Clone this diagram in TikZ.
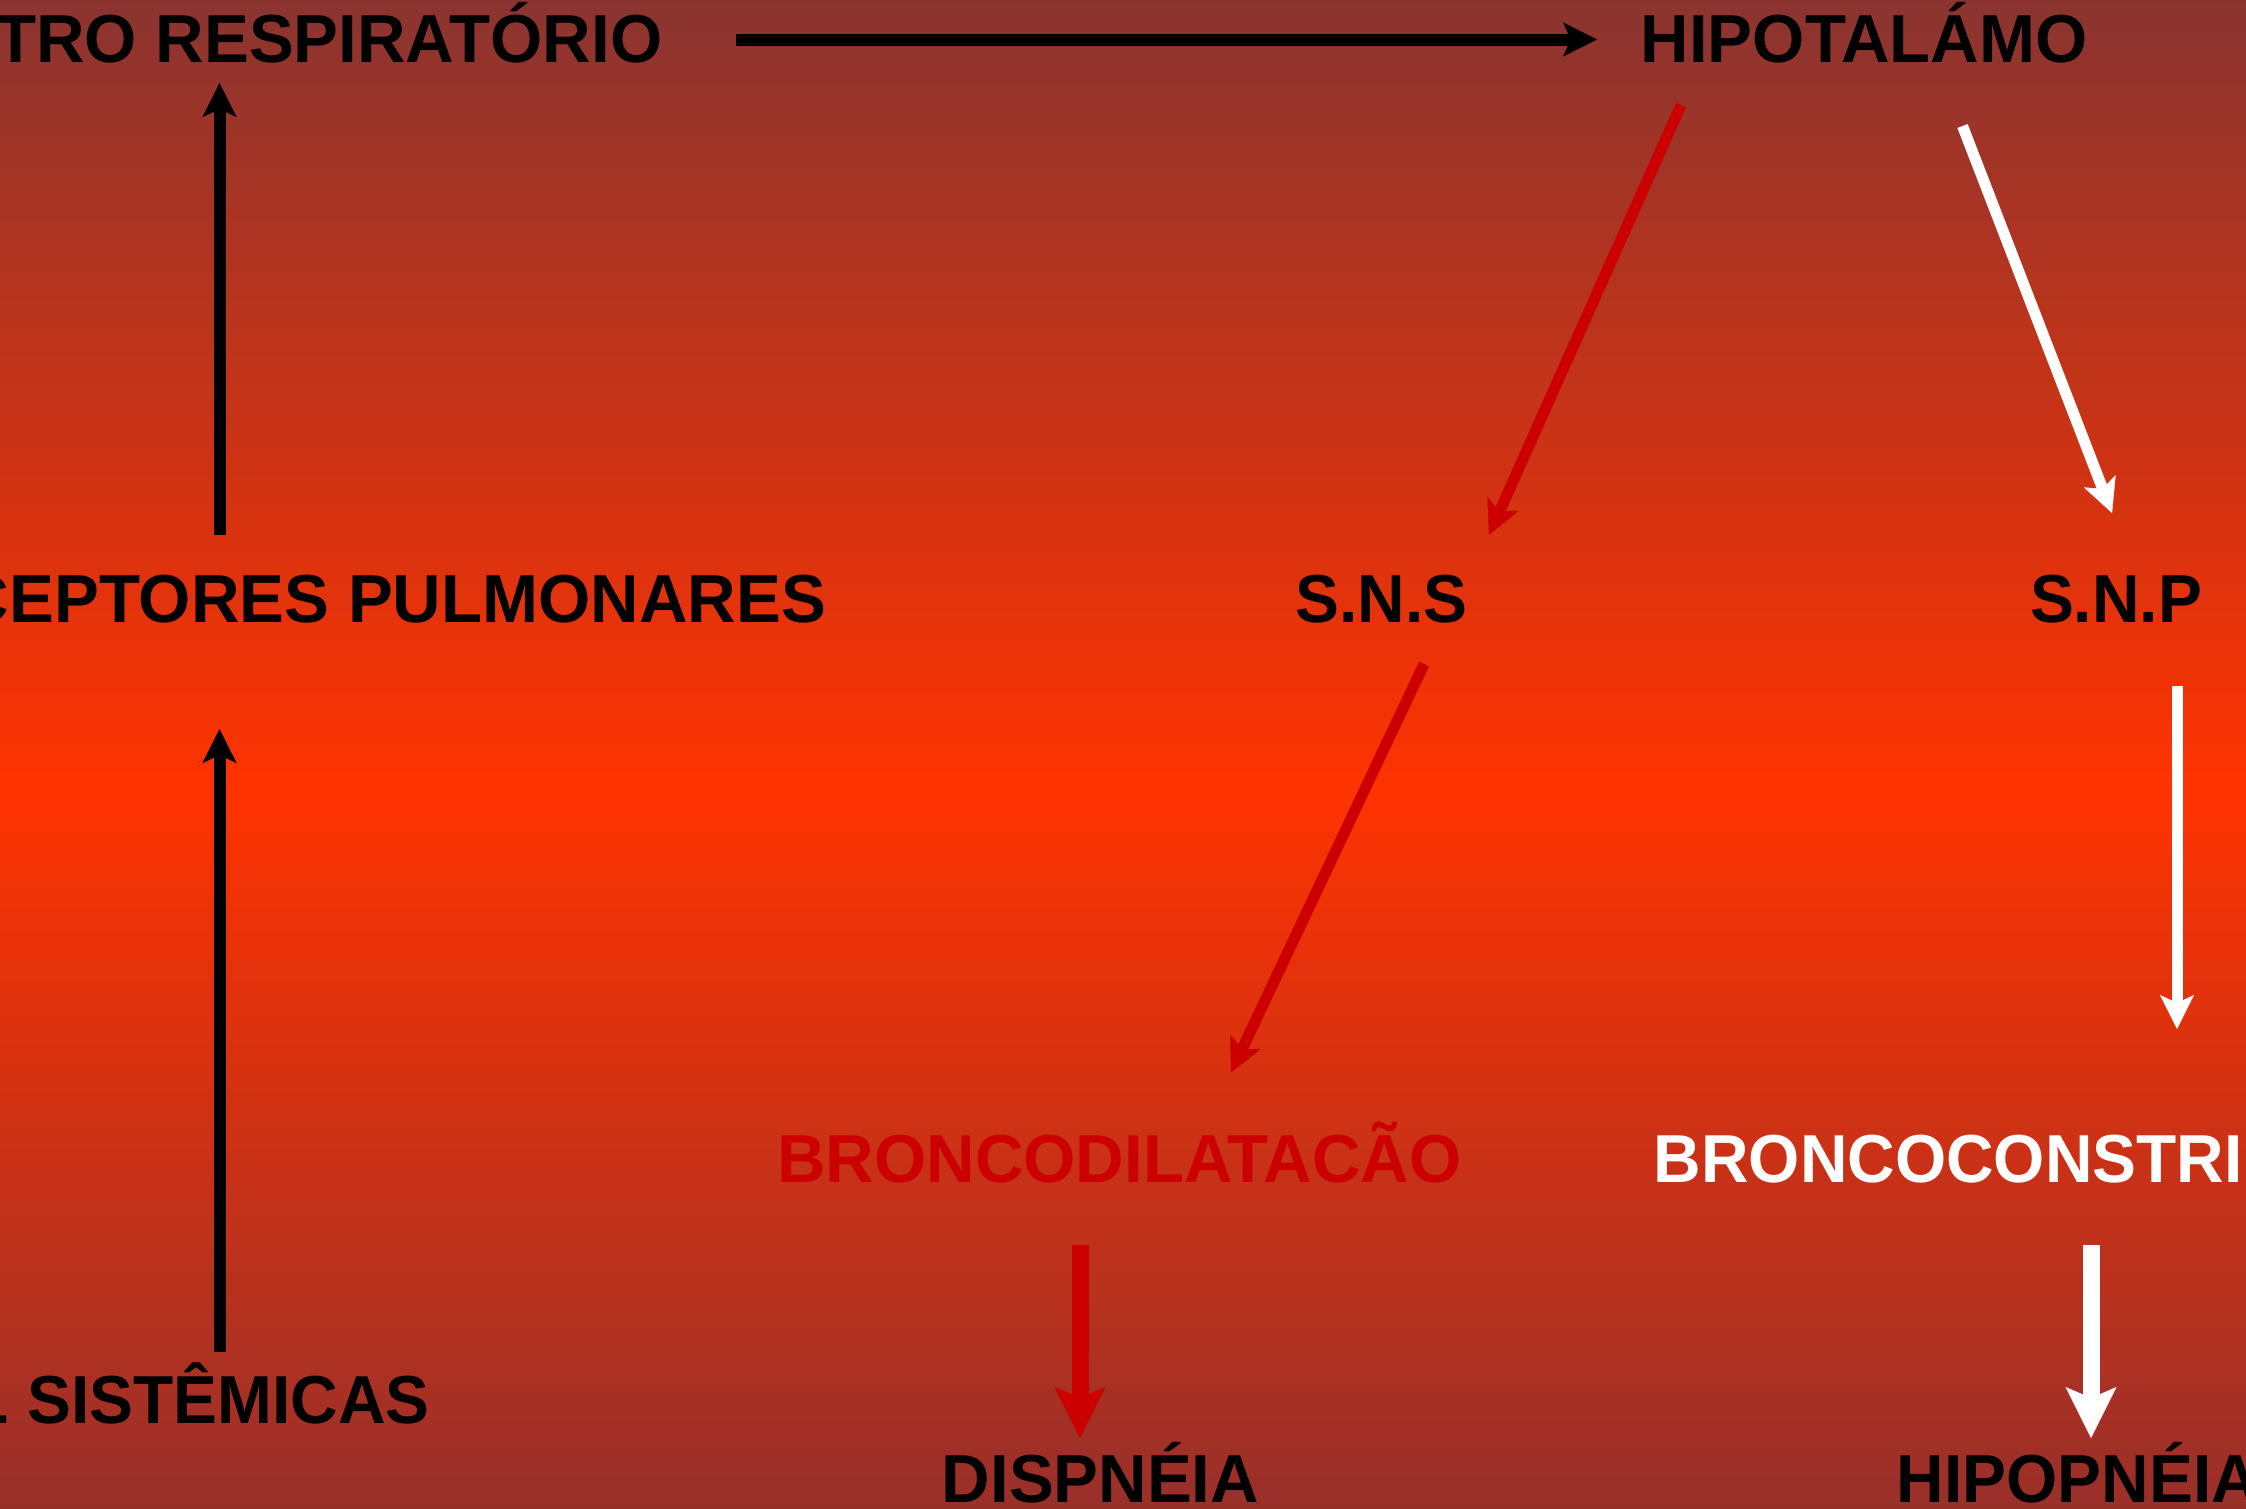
\documentclass[tikz,border=0pt]{standalone}
\usepackage{fontspec}
\setmainfont{Liberation Sans}[FakeStretch=0.97]
\newfontfamily\widerfont{Liberation Sans}[FakeStretch=0.99]
\usetikzlibrary{arrows.meta}
\definecolor{bgtop}{RGB}{138,52,48}
\definecolor{bgmid}{RGB}{255,51,0}
\definecolor{bgbot}{RGB}{152,48,42}
\definecolor{sred}{RGB}{204,0,0}
\begin{document}
\begin{tikzpicture}[x=0.01cm,y=-0.01cm,
  lbl/.style={inner sep=0pt, font=\fontsize{19.3}{23}\selectfont\bfseries},
  lblw/.style={inner sep=0pt, font=\widerfont\fontsize{19.3}{23}\selectfont\bfseries},
  arrblack/.style={draw=black, line width=0.12cm,
    -{Stealth[length=0.34cm, width=0.34cm, inset=0.08cm, line width=0.1pt]}},
  arrcol/.style={line width=0.11cm,
    -{Stealth[length=0.34cm, width=0.34cm, inset=0.08cm, line width=0.1pt]}},
  arrthick/.style={line width=0.17cm,
    -{Stealth[length=0.51cm, width=0.51cm, inset=0.11cm, line width=0.1pt]}}]
\useasboundingbox (0,0) rectangle (2246,1508);
\clip (0,0) rectangle (2246,1508);
% background
\shade[top color=bgtop, bottom color=bgmid] (0,0) rectangle (2246,789);
\shade[top color=bgmid, bottom color=bgbot] (0,788) rectangle (2246,1508);

% labels
\node[lblw,anchor=base east] (centro) at (663,62.3) {TRO RESPIRATÓRIO};
\node[lblw,anchor=base west] (hipo) at (1640,62.3) {HIPOTALÁMO};
\node[lblw,anchor=base east] (recept) at (826.6,622.7) {CEPTORES PULMONARES};
\node[lbl,anchor=base] (sns) at (1381.7,622.7) {S.N.S};
\node[lbl,anchor=base] (snp) at (2116,622.7) {S.N.P};
\node[lblw,anchor=base,text=sred] (bdil) at (1119.5,1182.7) {BRONCODILATACÃO};
\node[lbl,anchor=base west,text=white] (bcon) at (1653,1182.7) {BRONCOCONSTRI};
\node[lbl,anchor=base east] (sist) at (430.5,1423) {L SISTÊMICAS};
\node[lblw,anchor=base] (disp) at (1100.5,1502.7) {DISPNÉIA};
\node[lbl,anchor=base west] (hipop) at (1896,1502.7) {HIPOPNÉIA};

% connector end points
\coordinate (c1a) at (736,39.5);    \coordinate (c1b) at (1597,39.5);
\coordinate (c2a) at (1681,105);    \coordinate (c2b) at (1489,535);
\coordinate (c3a) at (1962.5,126);  \coordinate (c3b) at (2112,513);
\coordinate (c4a) at (219.5,535);   \coordinate (c4b) at (219.5,83);
\coordinate (c5a) at (219.5,1352);  \coordinate (c5b) at (219.5,729);
\coordinate (c6a) at (1424,664);    \coordinate (c6b) at (1231,1072.5);
\coordinate (c7a) at (2177,686);    \coordinate (c7b) at (2177,1029);
\coordinate (c8a) at (1080,1245);   \coordinate (c8b) at (1080,1438);
\coordinate (c9a) at (2091,1245);   \coordinate (c9b) at (2091,1438);

% connectors
\draw[arrblack] (c1a) -- (c1b);
\draw[arrblack] (c4a) -- (c4b);
\draw[arrblack] (c5a) -- (c5b);
\draw[arrcol, draw=sred] (c2a) -- (c2b);
\draw[arrcol, draw=sred] (c6a) -- (c6b);
\draw[arrcol, draw=white] (c3a) -- (c3b);
\draw[arrcol, draw=white] (c7a) -- (c7b);
\draw[arrthick, draw=sred] (c8a) -- (c8b);
\draw[arrthick, draw=white] (c9a) -- (c9b);
\end{tikzpicture}
\end{document}
